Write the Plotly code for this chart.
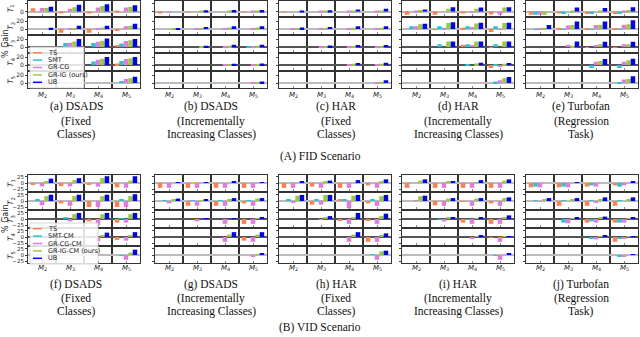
import plotly.graph_objects as go

W, H = 640, 337

methods_fid = ["TS", "SMT", "GR-CG", "GR-IG (ours)", "UB"]
methods_vid = ["TS", "SMT-CM", "GR-CG-CM", "GR-IG-CM (ours)", "UB"]
colors = ["#ff7f50", "#22c4d6", "#e27ae2", "#9acd32", "#0000ff"]
model_ticks = [2, 3, 4, 5]
model_labels = ["<i>M</i><sub>2</sub>", "<i>M</i><sub>3</sub>", "<i>M</i><sub>4</sub>", "<i>M</i><sub>5</sub>"]
task_labels = ["<i>T</i><sub>1</sub>", "<i>T</i><sub>2</sub>", "<i>T</i><sub>3</sub>", "<i>T</i><sub>4</sub>", "<i>T</i><sub>5</sub>"]

# % gain per task row (T1..T5), per model column (M2..M5): [TS, SMT, GR-CG, GR-IG, UB]
fid_dsads_fixed = [
    [[8, 0, 9, 9, 12], [-3, 0, 7, 11, 17], [-3, 0, 10, 14, 18], [2, 0, 10, 12, 16]],
    [[0, 0, 0, 0, 3], [-9, 0, 1, 1, 8], [-9, 0, 2, 4, 8], [-4, 0, 7, 8, 13]],
    [None, [0, 10, 11, 14, 20], [0, 10, 13, 16, 21], [5, 9, 15, 17, 20]],
    [None, None, [0, 9, 13, 16, 20], [4, 10, 15, 17, 20]],
    [None, None, None, [0, 5, 10, 12, 16]],
]
fid_dsads_incr = [
    [[-3, 0, -2, 0, 0], [-2, 0, 0, 1, 3], [0, 0, 0, 1, 4], [-1, 0, 1, 2, 4]],
    [[0, 0, 0, 1, 2], [0, 0, 1, 2, 5], [0, 0, 2, 4, 7], [0, 0, 2, 4, 7]],
    [None, [0, 0, 0, 1, 3], [0, 0, 1, 3, 6], [0, 1, 1, 3, 6]],
    [None, None, [0, 0, 1, 2, 3], [0, 0, 1, 2, 4]],
    [None, None, None, [0, 0, 1, 2, 4]],
]
fid_har_fixed = [
    [[-1, 0, 0, 0, 2], [0, 0, 1, 1, 3], [0, 0, 1, 2, 5], [0, 0, 1, 2, 7]],
    [[0, 0, 1, 1, 4], [0, 0, 1, 2, 5], [0, 0, 2, 3, 7], [0, 0, 2, 3, 7]],
    [None, [0, 0, 1, 1, 4], [0, 0, 1, 2, 5], [0, 0, 1, 2, 5]],
    [None, None, [0, 0, 1, 3, 5], [0, 0, 2, 3, 6]],
    [None, None, None, [0, 0, 2, 3, 7]],
]
fid_har_incr = [
    [[-8, 0, 1, 4, 5], [-8, 0, 0, 7, 11], [-3, 0, -1, 7, 10], [-7, 0, -8, 10, 11]],
    [[0, 7, 7, 12, 13], [-2, 7, 3, 15, 17], [3, 7, 5, 14, 16], [-7, 7, -2, 15, 16]],
    [None, [0, 7, 0, 14, 14], [6, 7, 5, 14, 14], [-2, 7, 0, 14, 14]],
    [None, None, [0, 2, 0, 4, 6], [-7, 2, -5, 3, 5]],
    [None, None, None, [0, 4, 7, 12, 15]],
]
fid_turbofan = [
    [[-8, -8, -8, -8, 0], [-3, -6, 0, 1, 10], [-6, -6, 0, 1, 9], [-6, -6, 2, 4, 11]],
    [[0, -2, 1, 3, 10], [3, -2, 9, 10, 19], [1, -2, 10, 11, 19], [1, -2, 11, 12, 22]],
    [None, [0, 0, 6, 3, 14], [-2, 0, 5, 7, 13], [-1, 0, 7, 7, 13]],
    [None, None, [0, -7, 8, 10, 15], [0, -7, 8, 12, 16]],
    [None, None, None, [0, 1, 9, 10, 17]],
]
vid_dsads_fixed = [
    [[-8, 0, -14, 8, 18], [-13, 0, -14, 12, 20], [-8, 0, -15, 20, 28], [-18, 0, -20, 10, 28]],
    [[0, 8, -18, 20, 26], [-10, 0, -20, 20, 26], [-25, 0, -25, 20, 26], [-25, 6, -25, 20, 28]],
    [None, [0, 5, -10, 20, 25], [-10, 0, -25, 20, 25], [-15, 3, -15, 20, 25]],
    [None, None, [0, 0, -18, 8, 18], [-12, 0, -15, 8, 20]],
    [None, None, None, [0, -3, -20, 10, 22]],
]
vid_dsads_incr = [
    [[-20, 0, -20, 0, 2], [-20, 0, -20, 0, 3], [-20, 0, -20, 0, 5], [-20, 0, -20, 0, 4]],
    [[0, 2, -10, 7, 10], [-20, 4, -20, 4, 7], [-20, 2, -20, 8, 12], [-10, 2, -20, 10, 12]],
    [None, [0, 0, -10, 0, 3], [0, 0, -20, 0, 4], [-20, 0, -20, 2, 5]],
    [None, None, [0, 0, -20, 10, 20], [-15, 0, -20, 10, 20]],
    [None, None, None, [0, 0, -5, 3, 8]],
]
vid_har_fixed = [
    [[-20, 0, -20, 0, 5], [-15, 0, -20, 5, 10], [-20, 0, -20, 0, 12], [-10, 0, -20, 6, 15]],
    [[0, 8, -5, 22, 25], [-15, 8, -15, 25, 25], [8, 5, -30, 22, 25], [-10, 5, -20, 20, 25]],
    [None, [0, 0, -3, 5, 12], [-5, 0, -20, 5, 25], [-8, 0, -20, 12, 22]],
    [None, None, [0, 0, -20, 10, 20], [-20, 0, -20, 5, 15]],
    [None, None, None, [0, 3, -20, 15, 18]],
]
vid_har_incr = [
    [[-20, 0, 0, 10, 15], [-20, 0, -20, 5, 8], [-20, 0, -20, 3, 12], [-20, 0, -20, 10, 15]],
    [[0, 0, 2, 20, 22], [-18, 0, -20, 10, 12], [-3, 0, -20, 10, 12], [-10, 0, -20, 12, 15]],
    [None, [0, -2, -10, 5, 8], [-15, -3, -20, 3, 6], [-20, 0, -20, 8, 15]],
    [None, None, [0, 0, -8, 2, 6], [-3, 0, -20, 2, 4]],
    [None, None, None, [0, -3, -20, 0, 6]],
]
vid_turbofan = [
    [[-18, -15, -18, 0, 0], [-18, -15, -18, 0, 2], [-15, -10, -15, 0, 0], [-10, -15, -10, 0, 5]],
    [[0, 2, -2, 5, 12], [-20, 2, 0, 5, 12], [-20, 2, -5, 5, 15], [-20, 2, 0, 6, 15]],
    [None, [0, -15, -18, 3, 6], [-15, -10, -15, 5, 10], [-15, -15, -15, 3, 5]],
    [None, None, [0, -5, -10, 3, 6], [-20, -5, -5, 3, 3]],
    [None, None, None, [0, -5, -5, 0, 2]],
]

captions_fid = [
    ["(a) DSADS", "(Fixed", "Classes)"],
    ["(b) DSADS", "(Incrementally", "Increasing Classes)"],
    ["(c) HAR", "(Fixed", "Classes)"],
    ["(d) HAR", "(Incrementally", "Increasing Classes)"],
    ["(e) Turbofan", "(Regression", "Task)"],
]
captions_vid = [
    ["(f) DSADS", "(Fixed", "Classes)"],
    ["(g) DSADS", "(Incrementally", "Increasing Classes)"],
    ["(h) HAR", "(Fixed", "Classes)"],
    ["(i) HAR", "(Incrementally", "Increasing Classes)"],
    ["(j) Turbofan", "(Regression", "Task)"],
]

# layout in pixels
panel_x = [(28, 140), (155, 267), (279, 391), (402, 514), (526, 638)]
caption_x = [76, 211, 336, 458, 581]
sections = [
    dict(data=[fid_dsads_fixed, fid_dsads_incr, fid_har_fixed, fid_har_incr, fid_turbofan],
         rows=[(0.5, 16), (18, 33.5), (36, 51.5), (54, 69.5), (72, 87.5)],
         yrange=[-11, 27.5], ytick=[0, 20], tfont=6, mlab_y=95, cap_y=[107, 121, 135],
         title="(A) FID Scenario", title_y=156, captions=captions_fid, methods=methods_fid,
         legend_box=(30, 47, 84, 88)),
    dict(data=[vid_dsads_fixed, vid_dsads_incr, vid_har_fixed, vid_har_incr, vid_turbofan],
         rows=[(175, 191), (193, 209), (211, 227), (229, 245), (247, 263)],
         yrange=[-33, 33], ytick=[-25, 0, 25], tfont=5.5, mlab_y=268, cap_y=[284, 298, 311],
         title="(B) VID Scenario", title_y=327, captions=captions_vid, methods=methods_vid,
         legend_box=(30, 223, 98, 264)),
]


def px(x):
    return x / W


def py(y):
    return 1 - y / H


def note(text, x, y, size, family, angle=0, xanchor="center", color="#222"):
    return dict(text=text, x=px(x), y=py(y), xref="paper", yref="paper",
                xanchor=xanchor, yanchor="middle", showarrow=False, textangle=angle,
                font=dict(family=family, size=size, color=color))


fig = go.Figure()
layout = {}
annotations = []
shapes = []
ax = 0
sans = "DejaVu Sans"
serif = "Liberation Serif"

for s in sections:
    for p, data in enumerate(s["data"]):
        x0, x1 = panel_x[p]
        for r, (y0, y1) in enumerate(s["rows"]):
            ax += 1
            xn = "x" if ax == 1 else f"x{ax}"
            yn = "y" if ax == 1 else f"y{ax}"
            for m in range(5):
                fig.add_trace(go.Bar(
                    x=model_ticks,
                    y=[cell[m] if cell else None for cell in data[r]],
                    marker=dict(color=colors[m], line=dict(width=0)),
                    xaxis=xn, yaxis=yn, showlegend=False, hoverinfo="skip"))
            zero_dark = r in (2, 3)
            layout[f"xaxis{ax}"] = dict(
                domain=[px(x0), px(x1)], anchor=yn, range=[1.5, 5.5], automargin=False,
                tickvals=model_ticks, showticklabels=False, ticks="inside", ticklen=2,
                tickcolor="#888", showgrid=False, zeroline=False,
                showline=True, mirror=True, linecolor="#333", linewidth=1,
                minor=dict(tickvals=[2.5, 3.5, 4.5], showgrid=True, gridcolor="#333", gridwidth=1.5),
                fixedrange=True)
            layout[f"yaxis{ax}"] = dict(
                domain=[py(y1), py(y0)], anchor=xn, range=s["yrange"], automargin=False,
                tickvals=s["ytick"], showticklabels=(p == 0), ticks="outside", ticklen=2,
                tickfont=dict(family=sans, size=s["tfont"], color="#222"), tickcolor="#444",
                showgrid=False, zeroline=True,
                zerolinecolor="#555" if zero_dark else "#bbb", zerolinewidth=2,
                showline=True, mirror=True, linecolor="#333", linewidth=1,
                fixedrange=True)
            if p == 0:
                annotations.append(note(task_labels[r], 11, (y0 + y1) / 2, 7.5, sans, angle=-90))
        # model labels under columns
        cw = (x1 - x0) / 4
        for k, lab in enumerate(model_labels):
            annotations.append(note(lab, x0 + cw * (k + 0.5), s["mlab_y"], 7, sans))
        for line, cy in zip(s["captions"][p], s["cap_y"]):
            annotations.append(note(line, caption_x[p], cy, 11.5, serif, color="#111"))
    ry = s["rows"]
    annotations.append(note("% Gain", 5, (ry[0][0] + ry[-1][1]) / 2, 8, sans, angle=-90))
    annotations.append(note(s["title"], 320, s["title_y"], 11.5, serif, color="#111"))
    # legend drawn inside the first panel
    lx0, ly0, lx1, ly1 = s["legend_box"]
    shapes.append(dict(type="rect", xref="paper", yref="paper",
                       x0=px(lx0), x1=px(lx1), y0=py(ly1), y1=py(ly0),
                       fillcolor="rgba(255,255,255,0.85)", line=dict(color="#ccc", width=0.8)))
    step = (ly1 - ly0 - 4) / 5
    for m, name in enumerate(s["methods"]):
        yy = ly0 + 2 + step * (m + 0.5)
        shapes.append(dict(type="line", xref="paper", yref="paper",
                           x0=px(lx0 + 3), x1=px(lx0 + 12), y0=py(yy), y1=py(yy),
                           line=dict(color=colors[m], width=1.5)))
        annotations.append(note(name, lx0 + 16, yy, 6.5, sans, xanchor="left"))

fig.update_layout(
    width=W, height=H, margin=dict(l=0, r=0, t=0, b=0),
    paper_bgcolor="white", plot_bgcolor="white",
    barmode="group", bargap=0.2, bargroupgap=0,
    annotations=annotations, shapes=shapes, showlegend=False,
    **layout)

fig.write_html("out.html", config={"displayModeBar": False},
               post_script="document.body.style.margin='0px';")
